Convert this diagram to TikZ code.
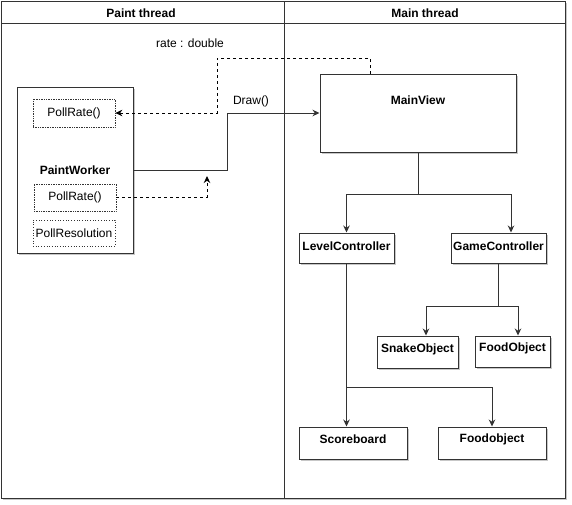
\documentclass[tikz,border=0pt]{standalone}
\usepackage{fontspec}
\setmainfont{Liberation Sans}
\usetikzlibrary{arrows.meta,shadows}
\definecolor{ln}{HTML}{333333}
\begin{document}
\begin{tikzpicture}[x=1pt,y=-1pt,
  every node/.style={font=\fontsize{12}{14}\selectfont, text=black},
  shad/.style={drop shadow={shadow xshift=2pt,shadow yshift=-2pt,opacity=0.22,fill=black}},
  box/.style={draw=ln, line width=1pt, fill=white, rectangle, inner sep=0pt, shad},
  dbox/.style={draw=ln, line width=0.7pt, fill=white, rectangle, inner sep=0pt, densely dotted},
  sbox/.style={draw=ln, line width=0.7pt, fill=white, rectangle, inner sep=0pt, dotted},
  bl/.style={font=\fontsize{12}{14}\selectfont\bfseries},
  tip/.style={-{Stealth[length=7pt,width=6.5pt]}},
  conn/.style={draw=ln, line width=1pt, tip},
  dconn/.style={draw=black, line width=1pt, tip, dash pattern=on 3pt off 3pt},
]
\useasboundingbox (0,0) rectangle (572,504);
% swimlanes
\node[draw=ln, line width=1pt, fill=white, rectangle, inner sep=0pt, minimum width=283pt, minimum height=497pt, shad] (lane1) at (142.5,249.5) {};
\node[draw=ln, line width=1pt, fill=white, rectangle, inner sep=0pt, minimum width=281pt, minimum height=497pt, shad] (lane2) at (424.5,249.5) {};
\node[draw=ln, line width=1pt, rectangle, inner sep=0pt, minimum width=283pt, minimum height=22pt] (h1) at (142.5,12) {};
\node[draw=ln, line width=1pt, rectangle, inner sep=0pt, minimum width=281pt, minimum height=22pt] (h2) at (424.5,12) {};
\node[bl] (t1) at (141,13) {Paint thread};
\node[bl] (t2) at (425,13) {Main thread};

% Paint thread
\node[box, minimum width=116pt, minimum height=166pt] (pw) at (75,170) {};
\node[bl] (pwl) at (75,170) {PaintWorker};
\node[dbox, minimum width=82pt, minimum height=28pt] (pr1) at (74,113) {PollRate()};
\node[dbox, minimum width=82pt, minimum height=27pt] (pr2) at (75,197.5) {PollRate()};
\node[sbox, minimum width=82pt, minimum height=26pt] (prs) at (74,233) {PollResolution};

% Main thread
\node[box, minimum width=196pt, minimum height=78pt] (mv) at (418,113) {};
\node[bl] (mvl) at (418,100) {MainView};
\node[box, minimum width=95pt, minimum height=30pt, label={[bl,yshift=2pt]center:LevelController}] (lc) at (346.5,248) {};
\node[box, minimum width=95pt, minimum height=30pt, label={[bl,yshift=2pt]center:GameController}] (gc) at (498.5,248) {};
\node[box, minimum width=81pt, minimum height=32pt, label={[bl,yshift=3pt]center:SnakeObject}] (so) at (417.5,352) {};
\node[box, minimum width=75pt, minimum height=31pt, label={[bl,yshift=3pt]center:FoodObject}] (fob) at (512.5,351.5) {};
\node[box, minimum width=108pt, minimum height=32pt, label={[bl,yshift=4pt]center:Scoreboard}] (sb) at (353,443) {};
\node[box, minimum width=108pt, minimum height=32pt, label={[bl,yshift=4pt]center:Foodobject}] (fo) at (492,443) {};

% labels
\node (rate) at (190,43) {rate : double};
\node (drw) at (251,101) {Draw()};

% connectors
\coordinate (mvtop) at (370,74);
\path[dconn] (mvtop) -- ++(0,-16) -| (217,113) -- (pr1.east);
\path[conn] (pw.east) -| (227,113) -- (mv.west);
\coordinate (up) at (207,176);
\path[dconn] (pr2.east) -| (up);
\path[conn] (mv.south) -- ++(0,42) -| (lc.north);
\path[conn] (mv.south) -- ++(0,42) -| ([xshift=12.5pt]gc.north);
\path[conn] (gc.south) -- ++(0,43) -| ([xshift=8.5pt]so.north);
\path[conn] (gc.south) -- ++(0,43) -| ([xshift=5.5pt]fob.north);
\path[conn] (lc.south) -- (lc.south |- sb.north);
\path[conn] (lc.south) -- ++(0,124) -| (fo.north);
\end{tikzpicture}
\end{document}
